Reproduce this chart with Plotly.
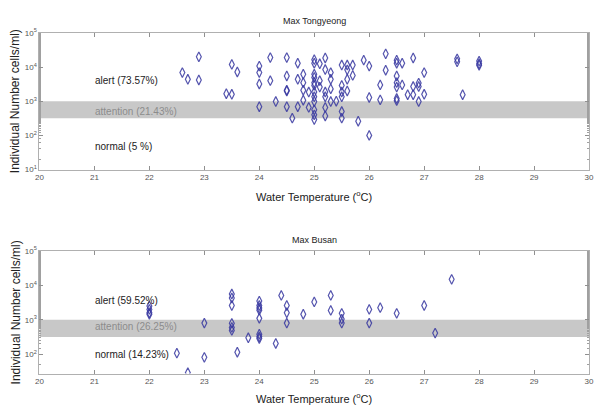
import plotly.graph_objects as go

# ---- data: Tongyeong (top panel) ----
tong_temp = [22.6, 22.7, 22.9, 22.9, 23.4, 23.5, 23.5, 23.6,
             24.0, 24.0, 24.0, 24.0, 24.2, 24.2, 24.3,
             24.5, 24.5, 24.5, 24.5, 24.5, 24.6, 24.7, 24.7, 24.7,
             24.8, 24.8, 24.8, 24.8, 24.9, 24.9,
             25.0, 25.0, 25.0, 25.0, 25.0, 25.0, 25.0, 25.0, 25.0, 25.0, 25.0, 25.0,
             25.1, 25.1, 25.1, 25.2, 25.2, 25.2, 25.2, 25.2, 25.2,
             25.3, 25.3, 25.3, 25.3, 25.4,
             25.5, 25.6, 25.7, 25.6, 25.7, 25.6, 25.5, 25.5, 25.6, 25.5, 25.5, 25.5,
             25.8, 25.9, 26.0, 26.0, 26.0, 26.2, 26.2, 26.3, 26.3,
             26.5, 26.5, 26.5, 26.5, 26.5, 26.5, 26.5,
             26.6, 26.6, 26.7, 26.8, 26.8, 26.8, 26.9, 26.9, 26.9,
             27.0, 27.0, 27.6, 27.6, 27.7, 28.0, 28.0, 28.0]
tong_cells = [6900, 4400, 20000, 4200, 1660, 1600, 12000, 7200,
              10700, 6900, 3200, 690, 19000, 4000, 980,
              19000, 5500, 2100, 2000, 690, 320, 13000, 4400, 690,
              6200, 3500, 2100, 1070, 1860, 660,
              16500, 13000, 6200, 5000, 3500, 2900, 1860, 1350, 980, 560, 400, 290,
              12500, 4000, 2600, 18500, 8500, 1860, 1350, 660, 370,
              6900, 4400, 2300, 980, 1000,
              11500, 11500, 11500, 8300, 5700, 4400, 2900, 1860, 2000, 1350, 500, 320,
              260, 16000, 10700, 1290, 100, 3000, 1100, 24500, 8100,
              16000, 13000, 5500, 3500, 2600, 1200, 1040,
              13000, 3000, 1550, 18500, 2700, 1550, 3400, 2700, 980,
              6900, 1600, 17500, 14300, 1550, 15000, 12500, 11300]

# ---- data: Busan (bottom panel) ----
busan_temp = [22.0, 22.0, 22.0, 22.0, 22.5, 22.7, 23.0, 23.0,
              23.5, 23.5, 23.5, 23.5, 23.5, 23.5, 23.6, 23.8,
              24.0, 24.0, 24.0, 24.0, 24.0, 24.0, 24.0, 24.0,
              24.3, 24.4, 24.5, 24.5, 24.5, 24.8, 25.0, 25.3, 25.3,
              25.5, 25.5, 25.5, 26.0, 26.0, 26.2, 26.5, 27.0, 27.2, 27.5]
busan_cells = [2500, 2000, 1600, 1450, 107, 29, 800, 81,
               5600, 4300, 2600, 790, 600, 490, 114, 300,
               3500, 2600, 2200, 1900, 1100, 380, 320, 285,
               205, 5100, 2600, 1600, 800, 1450, 3300, 5100, 1870,
               1540, 1050, 800, 2000, 800, 2250, 1540, 2600, 410, 15000]

top_labels = ["alert (73.57%)", "attention (21.43%)", "normal (5 %)"]
top_label_y = [3.62, 2.70, 1.66]
bot_labels = ["alert (59.52%)", "attention (26.25%)", "normal (14.23%)"]
bot_label_y = [3.55, 2.80, 2.00]
label_colors = ["#222222", "#8c8c8c", "#222222"]

tick_vals = [1e1, 1e2, 1e3, 1e4, 1e5]
tick_text = ["10<sup>1</sup>", "10<sup>2</sup>", "10<sup>3</sup>", "10<sup>4</sup>", "10<sup>5</sup>"]
x_ticks = list(range(20, 31))

band_low, band_high = 10 ** 2.5, 1e3

FONT = "Liberation Sans, Arial, sans-serif"
marker = dict(symbol="diamond-tall-open", size=7, color="rgba(55,55,160,0.85)",
              line=dict(width=1.2, color="rgba(55,55,160,0.85)"))

fig = go.Figure()
fig.add_trace(go.Scatter(x=tong_temp, y=tong_cells, mode="markers", marker=marker,
                         xaxis="x", yaxis="y", showlegend=False))
fig.add_trace(go.Scatter(x=busan_temp, y=busan_cells, mode="markers", marker=marker,
                         xaxis="x2", yaxis="y2", showlegend=False))

axis_common = dict(showgrid=False, zeroline=False, showline=True, linecolor="#b0b0b0",
                   linewidth=1, mirror="ticks", ticks="inside", ticklen=4,
                   ticklabeloverflow="allow",
                   tickcolor="#909090", tickfont=dict(size=8, color="#555555", family=FONT))

x_dom = [36 / 598, 594 / 598]
fig.update_layout(
    width=598, height=412, margin=dict(l=0, r=0, t=0, b=0),
    paper_bgcolor="white", plot_bgcolor="white", font=dict(family=FONT),
    xaxis=dict(domain=x_dom, anchor="y", range=[20, 30], tickvals=x_ticks, **axis_common),
    yaxis=dict(domain=[(412 - 168) / 412, (412 - 27.7) / 412], anchor="x", type="log",
               range=[1, 5], tickvals=tick_vals, ticktext=tick_text,
               minor=dict(ticks="inside", ticklen=2, tickcolor="#a0a0a0"), **axis_common),
    xaxis2=dict(domain=x_dom, anchor="y2", range=[20, 30], tickvals=x_ticks, **axis_common),
    yaxis2=dict(domain=[(412 - 377.7) / 412, (412 - 251.7) / 412], anchor="x2", type="log",
                range=[1.435, 5], tickvals=tick_vals, ticktext=tick_text,
                minor=dict(ticks="inside", ticklen=2, tickcolor="#a0a0a0"), **axis_common),
)

for xr, yr in [("x", "y"), ("x2", "y2")]:
    fig.add_shape(type="rect", xref=xr, yref=yr, x0=20, x1=30, y0=band_low, y1=band_high,
                  fillcolor="#c8c8c8", line=dict(width=0), layer="below")

for labels, ys, yr in [(top_labels, top_label_y, "y"), (bot_labels, bot_label_y, "y2")]:
    xr = "x" if yr == "y" else "x2"
    for t, yv, c in zip(labels, ys, label_colors):
        fig.add_annotation(x=20.97, y=yv, xref=xr, yref=yr, text=t, showarrow=False,
                           xanchor="left", yanchor="middle",
                           font=dict(size=10, color=c, family=FONT))

# titles
for txt, ypx in [("Max Tongyeong", 15), ("Max Busan", 240)]:
    fig.add_annotation(x=315 / 598, y=1 - ypx / 412, xref="paper", yref="paper", text=txt,
                       showarrow=False, xanchor="center", yanchor="middle",
                       font=dict(size=9, color="#222222", family=FONT))
# x-axis titles
for ypx in [195, 403]:
    fig.add_annotation(x=315 / 598, y=1 - ypx / 412, xref="paper", yref="paper",
                       text="Water Temperature (<sup>o</sup>C)", showarrow=False,
                       xanchor="center", yanchor="middle",
                       font=dict(size=11, color="#222222", family=FONT))
# y-axis titles
for ypx in [98, 315]:
    fig.add_annotation(x=12 / 598, y=1 - ypx / 412, xref="paper", yref="paper",
                       text="Individual Number cells/ml)", showarrow=False, textangle=-90,
                       xanchor="center", yanchor="middle",
                       font=dict(size=12, color="#222222", family=FONT))

fig.write_html("out.html", config={"displayModeBar": False},
               post_script="document.body.style.margin='0';document.body.style.overflow='hidden';")
